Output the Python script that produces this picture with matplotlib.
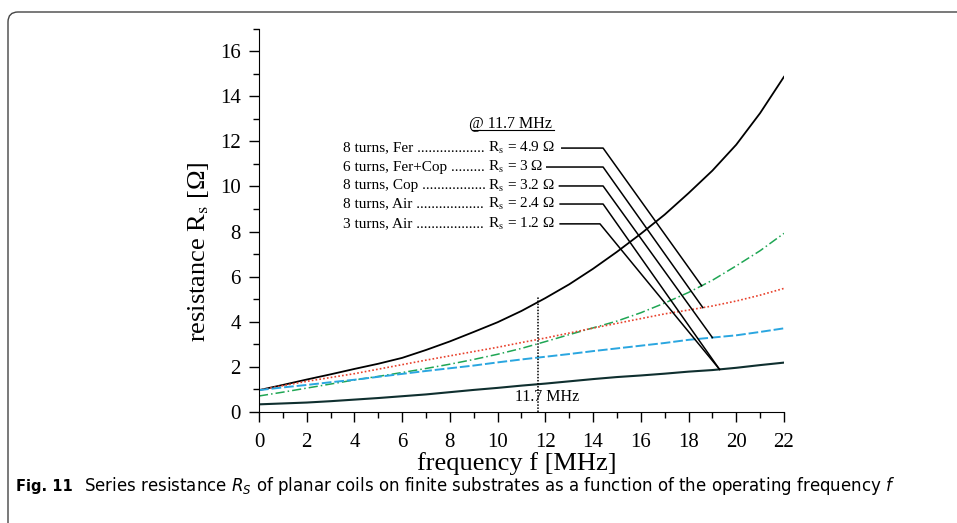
import numpy as np
import matplotlib.pyplot as plt
from matplotlib.patches import FancyBboxPatch
from matplotlib.transforms import IdentityTransform
from matplotlib.ticker import MultipleLocator

# frequency grid [MHz] and resistance values [Ohm]
freq = list(range(0, 23))
rs_fer8 = [0.97, 1.2, 1.44, 1.67, 1.91, 2.14, 2.4, 2.75, 3.13, 3.55, 3.98, 4.48,
           5.05, 5.66, 6.35, 7.1, 7.9, 8.75, 9.7, 10.7, 11.85, 13.25, 14.86]
rs_fercop6 = [0.71, 0.88, 1.06, 1.24, 1.42, 1.58, 1.75, 1.93, 2.12, 2.33, 2.56, 2.82,
              3.12, 3.43, 3.73, 4.03, 4.4, 4.83, 5.3, 5.84, 6.48, 7.15, 7.92]
rs_cop8 = [0.97, 1.17, 1.36, 1.53, 1.7, 1.9, 2.1, 2.3, 2.49, 2.68, 2.87, 3.08,
           3.28, 3.5, 3.72, 3.93, 4.14, 4.35, 4.52, 4.7, 4.92, 5.18, 5.48]
rs_air8 = [0.97, 1.09, 1.2, 1.32, 1.43, 1.56, 1.69, 1.82, 1.94, 2.06, 2.2, 2.33,
           2.45, 2.57, 2.7, 2.82, 2.94, 3.06, 3.2, 3.3, 3.4, 3.55, 3.71]
rs_air3 = [0.34, 0.38, 0.42, 0.48, 0.55, 0.62, 0.7, 0.78, 0.88, 0.98, 1.07, 1.17,
           1.26, 1.36, 1.46, 1.55, 1.62, 1.7, 1.79, 1.86, 1.96, 2.08, 2.19]

row_names = ["8 turns, Fer ", "6 turns, Fer+Cop ", "8 turns, Cop ",
             "8 turns, Air ", "3 turns, Air "]
row_values = ["4.9", "3", "3.2", "2.4", "1.2"]
f_mark = 11.7

plt.rcParams['font.family'] = ['Liberation Serif', 'DejaVu Serif']
plt.rcParams['mathtext.fontset'] = 'stix'

fig = plt.figure(figsize=(9.57, 5.23), dpi=100)
ax = fig.add_axes([0.2706, 0.2122, 0.5486, 0.7333])

ax.plot(freq, rs_fer8, color='black', lw=1.3)
ax.plot(freq, rs_fercop6, color='#1fa654', lw=1.1, dashes=(6, 2, 1, 2))
ax.plot(freq, rs_cop8, color='#e8412c', lw=1.2, dashes=(1, 1.3))
ax.plot(freq, rs_air8, color='#2aa6e0', lw=1.4, dashes=(5, 1.5))
ax.plot(freq, rs_air3, color='#0f2f2f', lw=1.5)

ax.set_xlim(0, 22)
ax.set_ylim(0, 17)
ax.xaxis.set_major_locator(MultipleLocator(2))
ax.xaxis.set_minor_locator(MultipleLocator(1))
ax.yaxis.set_major_locator(MultipleLocator(2))
ax.yaxis.set_minor_locator(MultipleLocator(1))
ax.tick_params(which='major', direction='out', length=7, width=1, labelsize=15)
ax.tick_params(which='minor', direction='out', length=4, width=1)
ax.tick_params(axis='x', pad=8)
ax.tick_params(axis='y', pad=6)
for s in ['top', 'right']:
    ax.spines[s].set_visible(False)

ax.set_xlabel("frequency f [MHz]", fontsize=19)
ax.set_ylabel("resistance R$_{\\mathrm{s}}$ [Ω]", fontsize=19)
ax.xaxis.set_label_coords(0.491, -0.104)
ax.yaxis.set_label_coords(-0.092, 0.417)

# marker at 11.7 MHz
ax.plot([f_mark, f_mark], [0, 5.1], color='black', lw=1.1, dashes=(1, 1))
ax.text(12.07, 0.66, "11.7 MHz", fontsize=11.5, ha='center', va='center')

# annotation block
ax.text(10.55, 12.77, "@ 11.7 MHz", fontsize=11.5, ha='center', va='center')
ax.plot([8.92, 12.36], [12.48, 12.48], color='black', lw=0.8)

row_y = [11.7, 10.86, 10.02, 9.22, 8.34]
line_x0 = [12.69, 12.06, 12.59, 12.62, 12.62]
line_x1 = [14.42, 14.42, 14.42, 14.42, 14.29]
target_f = [18.55, 18.6, 19.0, 19.3, 19.3]
targets = [rs_fercop6, rs_cop8, rs_air8, rs_air3, rs_air3]
r_x = 9.6

fig.canvas.draw()
renderer = fig.canvas.get_renderer()
r_px = ax.transData.transform((r_x, 0))[0]

for i in range(5):
    t = ax.text(3.52, row_y[i], row_names[i], fontsize=11, ha='left', va='center')
    # fill with dots up to the R_s column
    n = 0
    while True:
        t.set_text(row_names[i] + "." * (n + 1))
        if t.get_window_extent(renderer).x1 > r_px - 1:
            break
        n += 1
    t.set_text(row_names[i] + "." * n)
    ax.text(r_x, row_y[i], "R$_{\\mathrm{s}}$ = " + row_values[i] + " Ω",
            fontsize=11, ha='left', va='center')
    yt = np.interp(target_f[i], freq, targets[i])
    ax.plot([line_x0[i], line_x1[i], target_f[i]], [row_y[i], row_y[i], yt],
            color='black', lw=1.1)

# caption and panel border
cap_font = ['Liberation Sans Narrow', 'DejaVu Sans']
fig.text(16 / 957, 1 - 486 / 523, "Fig. 11", fontsize=10.5, fontweight='bold',
         family=cap_font, va='center')
fig.text(84 / 957, 1 - 486 / 523,
         "Series resistance $R_S$ of planar coils on finite substrates as a function "
         "of the operating frequency $f$",
         fontsize=12, family=cap_font, va='center', math_fontfamily='dejavusans')

box = FancyBboxPatch((8, -30), 1000, 541, boxstyle="round,pad=0,rounding_size=10",
                     transform=IdentityTransform(), fill=False, ec='#444444', lw=1)
fig.add_artist(box)

fig.savefig("out.png", dpi=100)
